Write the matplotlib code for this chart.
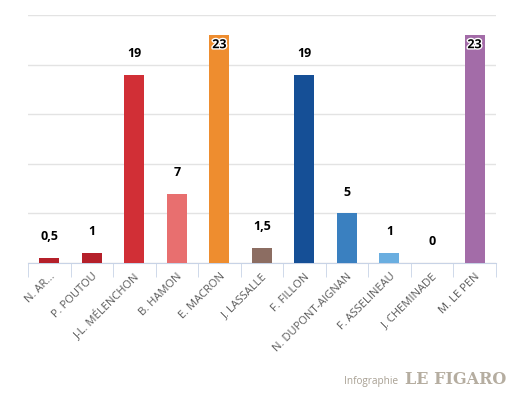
import matplotlib.pyplot as plt
import matplotlib.patheffects as pe
import numpy as np

# candidats et valeurs
candidats = ['N. AR...', 'P. POUTOU', 'J-L. MÉLENCHON', 'B. HAMON', 'E. MACRON',
             'J. LASSALLE', 'F. FILLON', 'N. DUPONT-AIGNAN', 'F. ASSELINEAU',
             'J. CHEMINADE', 'M. LE PEN']
valeurs = [0.5, 1, 19, 7, 23, 1.5, 19, 5, 1, 0, 23]
couleurs = ['#b5202a', '#b5202a', '#d12f36', '#e86f6f', '#ee8d2f', '#8c6d62',
            '#154f96', '#3a80c0', '#6aaee0', '#6aaee0', '#a36ca8']

plt.rcParams['font.family'] = ['Open Sans', 'DejaVu Sans']

fig = plt.figure(figsize=(5.28, 3.96), dpi=100)
ax = fig.add_axes([0.053, 0.336, 0.886, 0.625])

x = np.arange(len(candidats))
ax.bar(x, valeurs, width=0.47, color=couleurs, zorder=3)

ax.set_xlim(-0.5, len(candidats) - 0.5)
ax.set_ylim(0, 25)
ax.set_yticks([0, 5, 10, 15, 20, 25])
ax.yaxis.grid(True, color='#e3e3e3', linewidth=1)
ax.tick_params(axis='y', left=False, labelleft=False)
for s in ['top', 'right', 'left']:
    ax.spines[s].set_visible(False)
ax.spines['bottom'].set_color('#c8d3e6')

# ticks aux frontieres, etiquettes au centre
ax.set_xticks(np.arange(-0.5, len(candidats)), minor=True)
ax.tick_params(axis='x', which='minor', length=10, color='#c8d3e6')
ax.set_xticks(x)
ax.set_xticklabels(candidats, rotation=45, ha='right', va='top',
                   rotation_mode='anchor', fontsize=8, color='#5a5a5a')
ax.tick_params(axis='x', which='major', length=0, pad=6)

# etiquettes de valeurs
for xi, v in zip(x, valeurs):
    txt = ('%g' % v).replace('.', ',')
    if v > 22:
        t = ax.text(xi, v - 0.3, txt, ha='center', va='top', fontsize=9,
                    fontweight='bold', color='black', zorder=4)
        t.set_path_effects([pe.withStroke(linewidth=2, foreground='white')])
    else:
        ax.text(xi, v + 1.5, txt, ha='center', va='bottom', fontsize=9,
                fontweight='bold', color='black', zorder=4)

fig.text(0.754, 0.03, 'Infographie', fontsize=7.2, color='#a8a093', ha='right',
         va='baseline')
fig.text(0.767, 0.03, 'LE FIGARO', fontsize=11.5, fontweight='heavy', color='#b5ada0',
         family=['DejaVu Serif'], ha='left', va='baseline')

fig.savefig('out.png', dpi=100)
